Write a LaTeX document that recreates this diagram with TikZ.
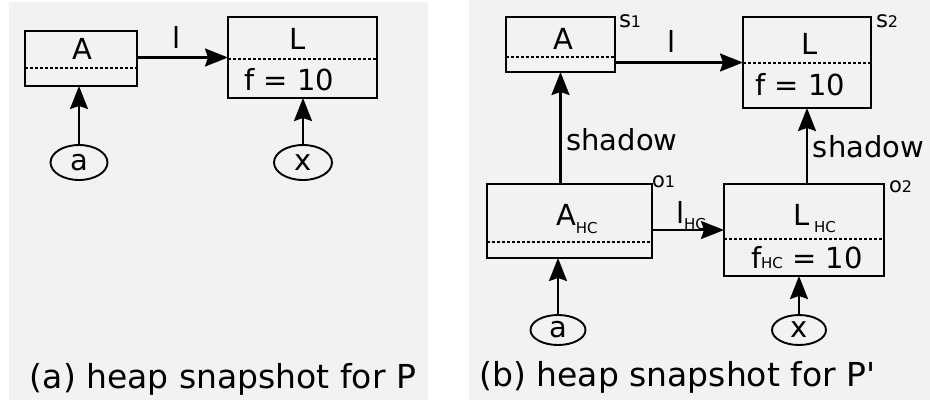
\documentclass[tikz,border=0pt]{standalone}
\usepackage{fontspec}
\setmainfont{DejaVu Sans}
\newfontfamily\plainfont{DejaVu Sans}
\usetikzlibrary{arrows.meta,shapes.geometric}
\definecolor{panel}{HTML}{F2F2F2}
\begin{document}
\begin{tikzpicture}[x=1pt,y=-1pt,
  box/.style={draw=black,line width=2.2pt,rectangle,inner sep=0,outer sep=0},
  dotl/.style={line width=2.6pt,dash pattern=on 2.5pt off 2.5pt},
  arr/.style={line width=2.1pt,-{Stealth[length=23pt,width=18pt,inset=3pt]}},
  ov/.style={draw,ellipse,line width=1.9pt,inner sep=0,outer sep=0,font=\fontsize{29}{29}\selectfont},
  t/.style={inner sep=0,outer sep=0,anchor=base,font=\fontsize{29}{29}\selectfont},
  tw/.style={t,anchor=base west},
  captxt/.style={inner sep=0,outer sep=0,anchor=base west,font=\fontsize{33}{33}\selectfont},
  sm/.style={inner sep=0,outer sep=0,anchor=base west},
  ]
\useasboundingbox (0,0) rectangle (930,408);
\fill[panel] (9,2) rectangle (428,400);
\fill[panel] (469,0) rectangle (930,400);

% ---------- panel (a) ----------
\node[box,minimum width=112pt,minimum height=55pt] (A1) at (81,58.5) {};
\node[box,minimum width=149pt,minimum height=81pt] (L1) at (302.5,57.5) {};
\draw[dotl] (A1.west |- 0,68) -- (A1.east |- 0,68);
\draw[dotl] (L1.west |- 0,59) -- (L1.east |- 0,59);
\node[t] (tA1) at (82,59) {A};
\node[t] (tL1) at (298,49) {L};
\node[t] (tf1) at (289.5,90) {f = 10};
\node[t] (tl1) at (177,48) {l};
\node[ov,minimum width=57pt,minimum height=35pt] (ea1) at (79,162.5) {a};
\node[ov,minimum width=58pt,minimum height=35pt] (ex1) at (303,162.5) {x};
\draw[arr] (L1.west -| A1.east) -- (L1.west);
\draw[arr] (ea1.north) -- (ea1.north |- A1.south);
\draw[arr] (ex1.north) -- (ex1.north |- L1.south);
\node[captxt] (capa) at (30,388) {(a) heap snapshot for P};

% ---------- panel (b) ----------
\node[box,minimum width=109pt,minimum height=55pt] (S1) at (560.5,44.5) {};
\node[box,minimum width=128pt,minimum height=91pt] (S2) at (807,62.5) {};
\node[box,minimum width=165pt,minimum height=74pt] (O1) at (569.5,221) {};
\node[box,minimum width=160pt,minimum height=92pt] (O2) at (804,230) {};
\draw[dotl] (S1.west |- 0,57) -- (S1.east |- 0,57);
\draw[dotl] (S2.west |- 0,63) -- (S2.east |- 0,63);
\draw[dotl] (O1.west |- 0,242) -- (O1.east |- 0,242);
\draw[dotl] (O2.west |- 0,239) -- (O2.east |- 0,239);

\node[t] (tA2) at (563,49) {A};
\node[t] (tL2) at (809.5,54) {L};
\node[t] (tf2) at (800,95) {f = 10};
\node[t] (tl2) at (672,52) {l};
\node[sm] (ls1) at (619,27) {{\fontsize{23}{23}\selectfont s}{\fontsize{16}{16}\selectfont 1}};
\node[sm] (ls2) at (876,27) {{\fontsize{23}{23}\selectfont s}{\fontsize{16}{16}\selectfont 2}};
\node[sm] (lo1) at (652,187) {{\fontsize{21}{21}\selectfont o}{\fontsize{16}{16}\selectfont 1}};
\node[sm] (lo2) at (889,192) {{\fontsize{21}{21}\selectfont o}{\fontsize{16}{16}\selectfont 2}};

\node[tw] (tAhc) at (556,225) {A{\fontsize{15}{15}\selectfont\raisebox{-8pt}{HC}}};
\node[tw] (tLhc) at (793,225) {L\hspace{5pt}{\fontsize{15}{15}\selectfont\raisebox{-7pt}{HC}}};
\node[tw] (tfhc) at (751,268) {f{\fontsize{15}{15}\selectfont HC} = 10};
\node[tw] (tlhc) at (676,223) {l{\fontsize{15}{15}\selectfont\raisebox{-6pt}{HC}}};

\node[t] (sh1) at (622,150) {shadow};
\node[t] (sh2) at (868.5,157) {shadow};

\node[ov,minimum width=55pt,minimum height=30pt] (ea2) at (558,330) {a};
\node[ov,minimum width=54pt,minimum height=30pt] (ex2) at (799,330) {x};

\draw[arr] (S2.west -| S1.east) -- (S2.west);
\draw[arr] (O2.west -| O1.east) -- (O2.west);
\draw[arr] (S1.south |- O1.north) -- (S1.south);
\draw[arr] (S2.south |- O2.north) -- (S2.south);
\draw[arr] (ea2.north) -- (ea2.north |- O1.south);
\draw[arr] (ex2.north) -- (ex2.north |- O2.south);
\node[captxt] (capb) at (479.5,386) {(b) heap snapshot for P{\plainfont '}};
\end{tikzpicture}
\end{document}
